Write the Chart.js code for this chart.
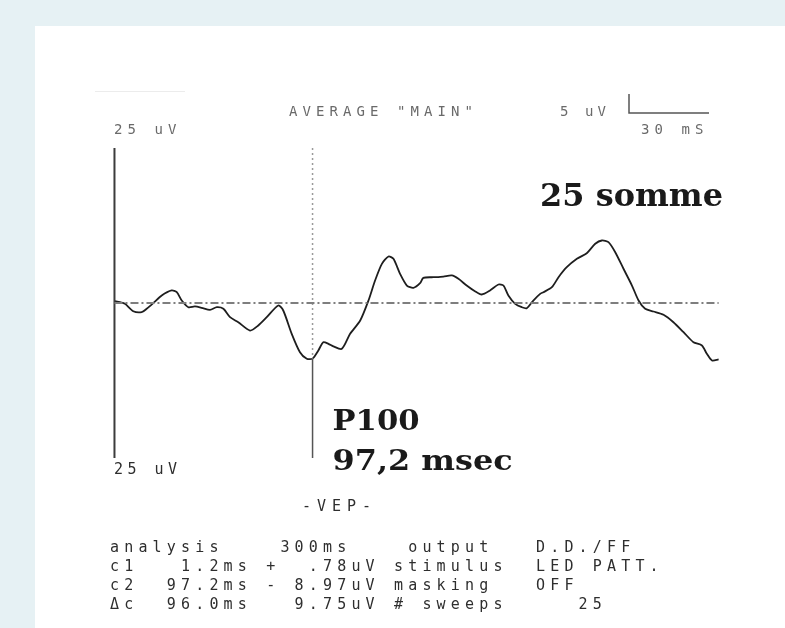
<!DOCTYPE html>
<html>
<head>
<meta charset="utf-8">
<script src="https://cdn.jsdelivr.net/npm/chart.js@4.4.0/dist/chart.umd.min.js"></script>
<style>
  html, body { margin: 0; padding: 0; background: #e6f1f4; }
  #wrap { width: 785px; height: 628px; position: relative; }
</style>
</head>
<body>
<div id="wrap"><canvas id="vep" width="785" height="628"></canvas></div>
<script>
// time (ms) and amplitude (uV) of the averaged trace
const times = [1.2, 3.9, 6.3, 10.3, 14.4, 16.8, 20.0, 24.1, 28.9, 31.4, 33.8, 37.0, 40.2, 43.5, 47.5, 50.8,
  54.0, 57.2, 61.2, 66.9, 70.9, 75.0, 80.6, 83.0, 87.1, 91.1, 94.4, 97.2, 100.0, 102.4, 104.9, 107.3,
  111.4, 115.4, 120.3, 124.3, 127.5, 130.8, 134.0, 136.4, 139.6, 142.9, 146.1, 149.3, 150.9, 155.8,
  160.6, 164.7, 167.9, 171.9, 175.9, 179.2, 183.2, 187.3, 189.7, 192.1, 195.4, 198.6, 201.0, 204.2,
  207.5, 209.1, 213.2, 216.4, 220.4, 225.3, 230.1, 234.2, 237.4, 240.6, 243.9, 247.9, 252.0, 255.2,
  258.4, 262.4, 267.3, 272.1, 277.0, 281.8, 285.9, 288.3, 290.8, 294.0];
const volts = [0.3, 0.13, -0.13, -1.32, -1.48, -0.94, -0.03, 1.21, 2.02, 1.74, 0.40, -0.68, -0.56, -0.77, -1.10, -0.68,
  -0.94, -2.29, -3.10, -4.44, -3.63, -2.29, -0.40, -1.21, -4.97, -7.94, -9.0, -8.97, -7.66, -6.32, -6.58, -7.0,
  -7.39, -4.97, -2.82, 0.40, 3.63, 6.32, 7.5, 7.13, 4.71, 2.82, 2.45, 3.19, 4.06, 4.16,
  4.27, 4.44, 3.90, 2.82, 1.90, 1.37, 2.02, 2.98, 2.82, 1.21, -0.13, -0.68, -0.84, 0.40,
  1.48, 1.74, 2.55, 4.16, 5.77, 7.13, 8.03, 9.55, 10.08, 9.81, 8.19, 5.52, 2.82, 0.40,
  -0.94, -1.37, -1.90, -3.10, -4.71, -6.32, -6.85, -8.19, -9.27, -9.11];

// cursors c1 / c2
const cursorTimes = [1.2, 97.2];
const cursorVolts = [0.78, -8.97];

// axis range: 300 ms analysis, +/- 25 uV
const timeRange = [0, 300];
const voltRange = [-25, 25];
const baselineEnd = 294;

// printed texts
const headerText = 'AVERAGE "MAIN"';
const scaleText = "5 uV";
const voltLabel = "25 uV";
const timeLabel = "30 mS";
const sumText = "25 somme";
const peakName = "P100";
const peakText = "97,2 msec";
const testName = "-VEP-";
const infoRows = [
  "analysis    300ms    output   D.D./FF",
  "c1   1.2ms +  .78uV stimulus  LED PATT.",
  "c2  97.2ms - 8.97uV masking   OFF",
  "\u0394c  96.0ms   9.75uV # sweeps     25"
];

let trace = [];
for (let i = 0; i < times.length; i++) {
  trace.push({ x: times[i], y: volts[i] });
}

function monoText(ctx, str, x0, y, cw) {
  for (let i = 0; i < str.length; i++) {
    ctx.fillText(str[i], x0 + i * cw, y);
  }
}

function fitText(ctx, txt, x, y, size, w, align) {
  ctx.save();
  ctx.font = "bold " + size + 'px "DejaVu Serif"';
  const m = ctx.measureText(txt).width;
  ctx.translate(x, y);
  ctx.scale(w / m, 1);
  ctx.textAlign = align;
  ctx.textBaseline = "alphabetic";
  ctx.fillText(txt, 0, 0);
  ctx.restore();
}

const paper = {
  id: "paper",
  beforeDraw(chart) {
    const ctx = chart.ctx;
    ctx.save();
    ctx.fillStyle = "#e6f1f4";
    ctx.fillRect(0, 0, chart.width, chart.height);
    ctx.fillStyle = "#ffffff";
    ctx.fillRect(35, 26, chart.width - 35, chart.height - 26);
    // faint scan mark near the top
    ctx.strokeStyle = "#ececec";
    ctx.lineWidth = 1;
    ctx.beginPath();
    ctx.moveTo(95, 91.5);
    ctx.lineTo(185, 91.5);
    ctx.stroke();
    ctx.restore();
  }
};

const labels = {
  id: "labels",
  afterDatasetsDraw(chart) {
    const ctx = chart.ctx;
    const xs = chart.scales.x;
    const area = chart.chartArea;
    ctx.save();

    // header, dot matrix style
    ctx.fillStyle = "#6a6a6a";
    ctx.font = '14px "DejaVu Sans Mono"';
    ctx.textBaseline = "middle";
    monoText(ctx, headerText, 289, 112, 13.5);
    monoText(ctx, scaleText, 560, 112, 12.5);
    monoText(ctx, voltLabel, area.left + 2, 130, 13.5);
    monoText(ctx, timeLabel, 641, 130, 13.5);

    // calibration bar
    ctx.strokeStyle = "#555";
    ctx.lineWidth = 1.5;
    ctx.beginPath();
    ctx.moveTo(629, 94);
    ctx.lineTo(629, 113);
    ctx.lineTo(709, 113);
    ctx.stroke();

    // big annotations
    ctx.fillStyle = "#1a1a1a";
    fitText(ctx, sumText, 723, 206, 31, 183, "right");
    const px = xs.getPixelForValue(cursorTimes[1]) + 20;
    fitText(ctx, peakName, px, 430, 28, 87, "left");
    fitText(ctx, peakText, px, 470, 28, 180, "left");

    // bottom block
    ctx.fillStyle = "#2e2e2e";
    ctx.font = '15px "DejaVu Sans Mono"';
    ctx.textBaseline = "middle";
    monoText(ctx, voltLabel, area.left + 2, 470, 13.5);
    monoText(ctx, testName, 302, 507, 15);
    const rowY = [548, 567, 586, 605];
    for (let i = 0; i < infoRows.length; i++) {
      monoText(ctx, infoRows[i], 110, rowY[i], 14.2);
    }
    ctx.restore();
  }
};

const config = {
  type: "line",
  data: {
    datasets: [
      {
        label: "baseline",
        data: [{ x: cursorTimes[0], y: 0 }, { x: baselineEnd, y: 0 }],
        borderColor: "#7e7e7e",
        borderWidth: 2,
        borderDash: [8, 3, 2, 3],
        pointRadius: 0
      },
      {
        label: "c1",
        data: [{ x: cursorTimes[0], y: voltRange[1] }, { x: cursorTimes[0], y: voltRange[0] }],
        borderColor: "#3c3c3c",
        borderWidth: 2,
        pointRadius: 0
      },
      {
        label: "c2 upper",
        data: [{ x: cursorTimes[1], y: voltRange[1] }, { x: cursorTimes[1], y: cursorVolts[1] }],
        borderColor: "#9a9a9a",
        borderWidth: 1.5,
        borderDash: [2, 3],
        pointRadius: 0
      },
      {
        label: "c2 lower",
        data: [{ x: cursorTimes[1], y: cursorVolts[1] }, { x: cursorTimes[1], y: voltRange[0] }],
        borderColor: "#555",
        borderWidth: 1.5,
        pointRadius: 0
      },
      {
        label: "VEP",
        data: trace,
        borderColor: "#1e1e1e",
        borderWidth: 1.8,
        tension: 0.25,
        pointRadius: 0
      }
    ]
  },
  options: {
    responsive: false,
    animation: false,
    devicePixelRatio: 1,
    layout: { padding: { left: 112, right: 54, top: 148, bottom: 170 } },
    plugins: { legend: { display: false }, tooltip: { enabled: false } },
    scales: {
      x: { type: "linear", min: timeRange[0], max: timeRange[1], display: false },
      y: { type: "linear", min: voltRange[0], max: voltRange[1], display: false }
    }
  },
  plugins: [paper, labels]
};

const myChart = new Chart(document.querySelector("#vep"), config);
</script>
</body>
</html>
